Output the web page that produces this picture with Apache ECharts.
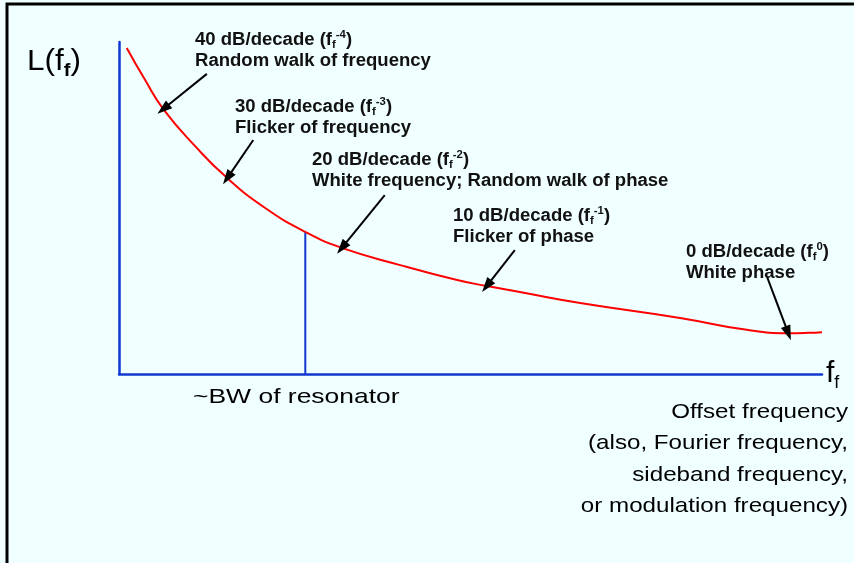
<!DOCTYPE html>
<html>
<head>
<meta charset="utf-8">
<script src="https://cdn.jsdelivr.net/npm/echarts@6/dist/echarts.min.js"></script>
<style>
html,body{margin:0;padding:0;background:#f0ffff;}
#main{width:854px;height:563px;}
</style>
</head>
<body>
<div id="main"></div>
<script>
// offset frequency, arbitrary units across the axis (0..100)
var freq  = [1.1, 3.7, 6.3, 10.8, 15.4, 20.8, 26.5, 31.7, 40.0, 48.1, 52.3, 57.0, 65.6, 79.8, 89.3, 95.2, 98.0, 100];
// L(f) level, arbitrary units (0..100)
var level = [98.2, 88.6, 79.8, 68.7, 59.0, 50.0, 42.8, 38.0, 32.8, 28.3, 26.5, 24.7, 21.4, 16.9, 13.3, 12.3, 12.4, 12.6];

// where each annotation arrow starts (same units) and which curve point it hits
var arrowTail = [[12.5, 90.4], [19.1, 70.5], [37.8, 53.9], [56.3, 37.3], [92.2, 29.2]];
var arrowHead = [2, 4, 7, 10, 15];

// curve point where the resonator bandwidth line stands
var bwIndex = 6;

var regions = [
  ['40 dB/decade (f{sub|f}{sup|-4})', 'Random walk of frequency'],
  ['30 dB/decade (f{sub|f}{sup|-3})', 'Flicker of frequency'],
  ['20 dB/decade (f{sub|f}{sup|-2})', 'White frequency; Random walk of phase'],
  ['10 dB/decade (f{sub|f}{sup|-1})', 'Flicker of phase'],
  ['0 dB/decade (f{sub|f}{sup|0})', 'White phase']
];
var regionPos = [[195, 29], [235, 96], [312, 149], [453, 205], [686, 241]];

var offsetText = ['Offset frequency', '(also, Fourier frequency,', 'sideband frequency,', 'or modulation frequency)'];

var FONT = '"Liberation Sans", Arial, Helvetica, sans-serif';
var blue = '#1038d0';

var curve = freq.map(function (f, i) { return [f, level[i]]; });

var arrows = arrowTail.map(function (t, i) {
  var h = arrowHead[i];
  return [{ coord: t }, { coord: [freq[h], level[h]] }];
});

var boldRich = {
  sub: { fontSize: 11, fontWeight: 'bold', fontFamily: FONT, verticalAlign: 'bottom', lineHeight: 12, fill: '#111' },
  sup: { fontSize: 11, fontWeight: 'bold', fontFamily: FONT, verticalAlign: 'top', lineHeight: 12, fill: '#111' }
};

var graphics = [
  // frame
  { type: 'rect', shape: { x: 7, y: 4, width: 900, height: 620 }, style: { fill: null, stroke: '#000', lineWidth: 3 }, silent: true },
  {
    type: 'text', x: 27, y: 44, scaleX: 1.05,
    style: {
      text: 'L(f{s|f})', fontSize: 30, fontFamily: FONT, fill: '#000', lineHeight: 36, verticalAlign: 'top',
      rich: { s: { fontSize: 19, fontWeight: 'bold', fontFamily: FONT, verticalAlign: 'bottom', lineHeight: 18, fill: '#000' } }
    }
  },
  {
    type: 'text', x: 826, y: 356,
    style: {
      text: 'f{s|f}', fontSize: 30, fontFamily: FONT, fill: '#000', lineHeight: 36, verticalAlign: 'top',
      rich: { s: { fontSize: 18, fontFamily: FONT, verticalAlign: 'bottom', lineHeight: 18, fill: '#000' } }
    }
  },
  {
    type: 'text', x: 193, y: 383, scaleX: 1.26,
    style: { text: '~BW of resonator', fontSize: 21, fontFamily: FONT, fill: '#000', lineHeight: 28, verticalAlign: 'top' }
  },
  {
    type: 'text', x: 848, y: 396, scaleX: 1.15,
    style: { text: offsetText.join('\n'), fontSize: 21, fontFamily: FONT, fill: '#000', lineHeight: 31.5, align: 'right', verticalAlign: 'top' }
  }
];

regions.forEach(function (r, i) {
  graphics.push({
    type: 'text', x: regionPos[i][0], y: regionPos[i][1], scaleX: 1.03,
    style: {
      text: r.join('\n'), fontSize: 18, fontWeight: 'bold', fontFamily: FONT, fill: '#111',
      lineHeight: 21.5, verticalAlign: 'top', rich: boldRich
    }
  });
});

var myChart = echarts.init(document.getElementById('main'));
var option = {
  backgroundColor: '#f0ffff',
  animation: false,
  grid: { left: 119, right: 32, top: 42, bottom: 189 },
  xAxis: {
    type: 'value', min: 0, max: 100,
    axisLine: { show: true, lineStyle: { color: blue, width: 2.5 } },
    axisTick: { show: false }, axisLabel: { show: false }, splitLine: { show: false }
  },
  yAxis: {
    type: 'value', min: 0, max: 100,
    axisLine: { show: true, lineStyle: { color: blue, width: 2.5 } },
    axisTick: { show: false }, axisLabel: { show: false }, splitLine: { show: false }
  },
  series: [
    {
      type: 'line',
      data: [[freq[bwIndex], 0], [freq[bwIndex], level[bwIndex]]],
      symbol: 'none',
      lineStyle: { color: blue, width: 2 },
      silent: true
    },
    {
      type: 'line',
      data: curve,
      smooth: 0.5,
      symbol: 'none',
      lineStyle: { color: '#ff0000', width: 2 },
      silent: true,
      markLine: {
        silent: true,
        symbol: ['none', 'triangle'],
        symbolSize: [10, 15],
        label: { show: false },
        lineStyle: { color: '#000', width: 2, type: 'solid' },
        data: arrows
      }
    }
  ],
  graphic: graphics
};
myChart.setOption(option);
</script>
</body>
</html>
